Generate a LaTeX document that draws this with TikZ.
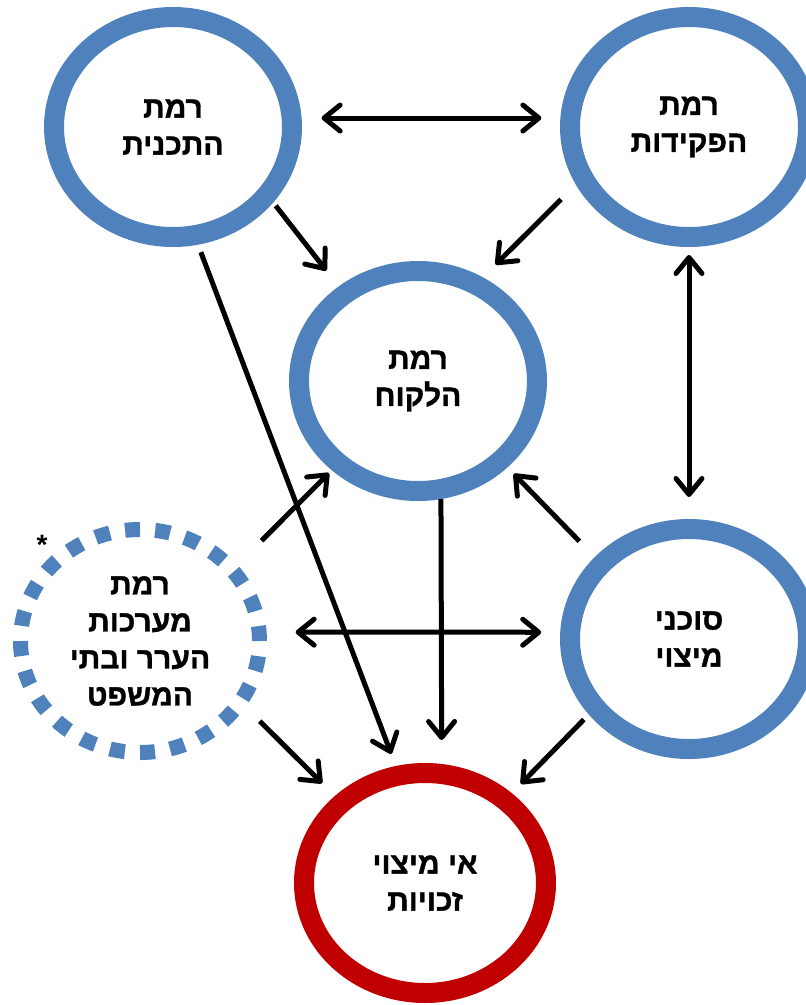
\documentclass[tikz,border=0pt]{standalone}
\usepackage{fontspec}
\setmainfont{Liberation Sans}
\newfontfamily\hebfont[Script=Hebrew, BoldFont={Liberation Sans Bold},
    BoldFeatures={FakeBold=1.2}]{Liberation Sans}
\TeXXeTstate=1
\usetikzlibrary{shapes.geometric,arrows.meta}

\definecolor{ringblue}{HTML}{4F81BD}
\definecolor{ringred}{HTML}{C00000}
\newcommand{\hb}[1]{\beginR #1\endR}

\begin{document}
\begin{tikzpicture}[
    x=1pt, y=-1pt,
    >={Straight Barb[length=16pt, width=26pt, round]},
    ring/.style={ellipse, draw=ringblue, line width=20pt,
        minimum width=238pt, minimum height=220pt, inner sep=0pt,
        align=center, font=\hebfont\bfseries\fontsize{30}{37}\selectfont},
    arr/.style={->, line width=5pt}
]
    \useasboundingbox (0,0) rectangle (806,1005);

    % Levels
    \node[ring] (tk) at (173,127) {\hb{רמת}\\\hb{התכנית}};
    \node[ring] (pk) at (689,127) {\hb{רמת}\\\hb{הפקידות}};
    \node[ring] (lk) at (418,381) {\hb{רמת}\\\hb{הלקוח}};
    \node[ring] (sm) at (689,639) {\hb{סוכני}\\\hb{מיצוי}};
    \node[ring, line width=15pt, dash pattern=on 15pt off 15.25pt,
        minimum width=239pt, minimum height=223pt] (mr) at (140,641)
        {\hb{רמת}\\\hb{מערכות}\\\hb{הערר ובתי}\\\hb{המשפט}};
    \node[font=\bfseries\fontsize{28}{30}\selectfont] (ast) at (42,545) {*};

    % Outcome
    \node[ring, draw=ringred, minimum width=242pt] (ami) at (425,883)
        {\hb{אי מיצוי}\\\hb{זכויות}};

    % Connections
    \draw[arr, <->, shorten <=20pt, shorten >=19pt] (tk.4) -- (pk.176);
    \draw[arr, shorten <=4pt, shorten >=20pt] (tk.-37) -- (lk.130);
    \draw[arr, shorten <=21pt, shorten >=18pt] (pk.-153) -- (lk.58);
    \draw[arr, shorten <=8pt, shorten >=13pt] (tk.-78) -- (ami.104);
    \draw[arr, <->, shorten <=8pt, shorten >=22pt] (pk.south) -- (sm.north);
    \draw[arr, shorten >=24pt] (lk.-79) -- (ami.82);
    \draw[arr, shorten <=34pt, shorten >=4pt] (mr.38) -- (lk.-134);
    \draw[arr, shorten <=22pt, shorten >=9pt] (sm.139) -- (lk.-44);
    \draw[arr, <->, shorten <=29pt, shorten >=19pt] (mr.4) -- (sm.177);
    \draw[arr, shorten <=20pt, shorten >=18pt] (mr.-32) -- (ami.136);
    \draw[arr, shorten <=7pt, shorten >=13pt] (sm.-143) -- (ami.46);

\end{tikzpicture}
\end{document}
